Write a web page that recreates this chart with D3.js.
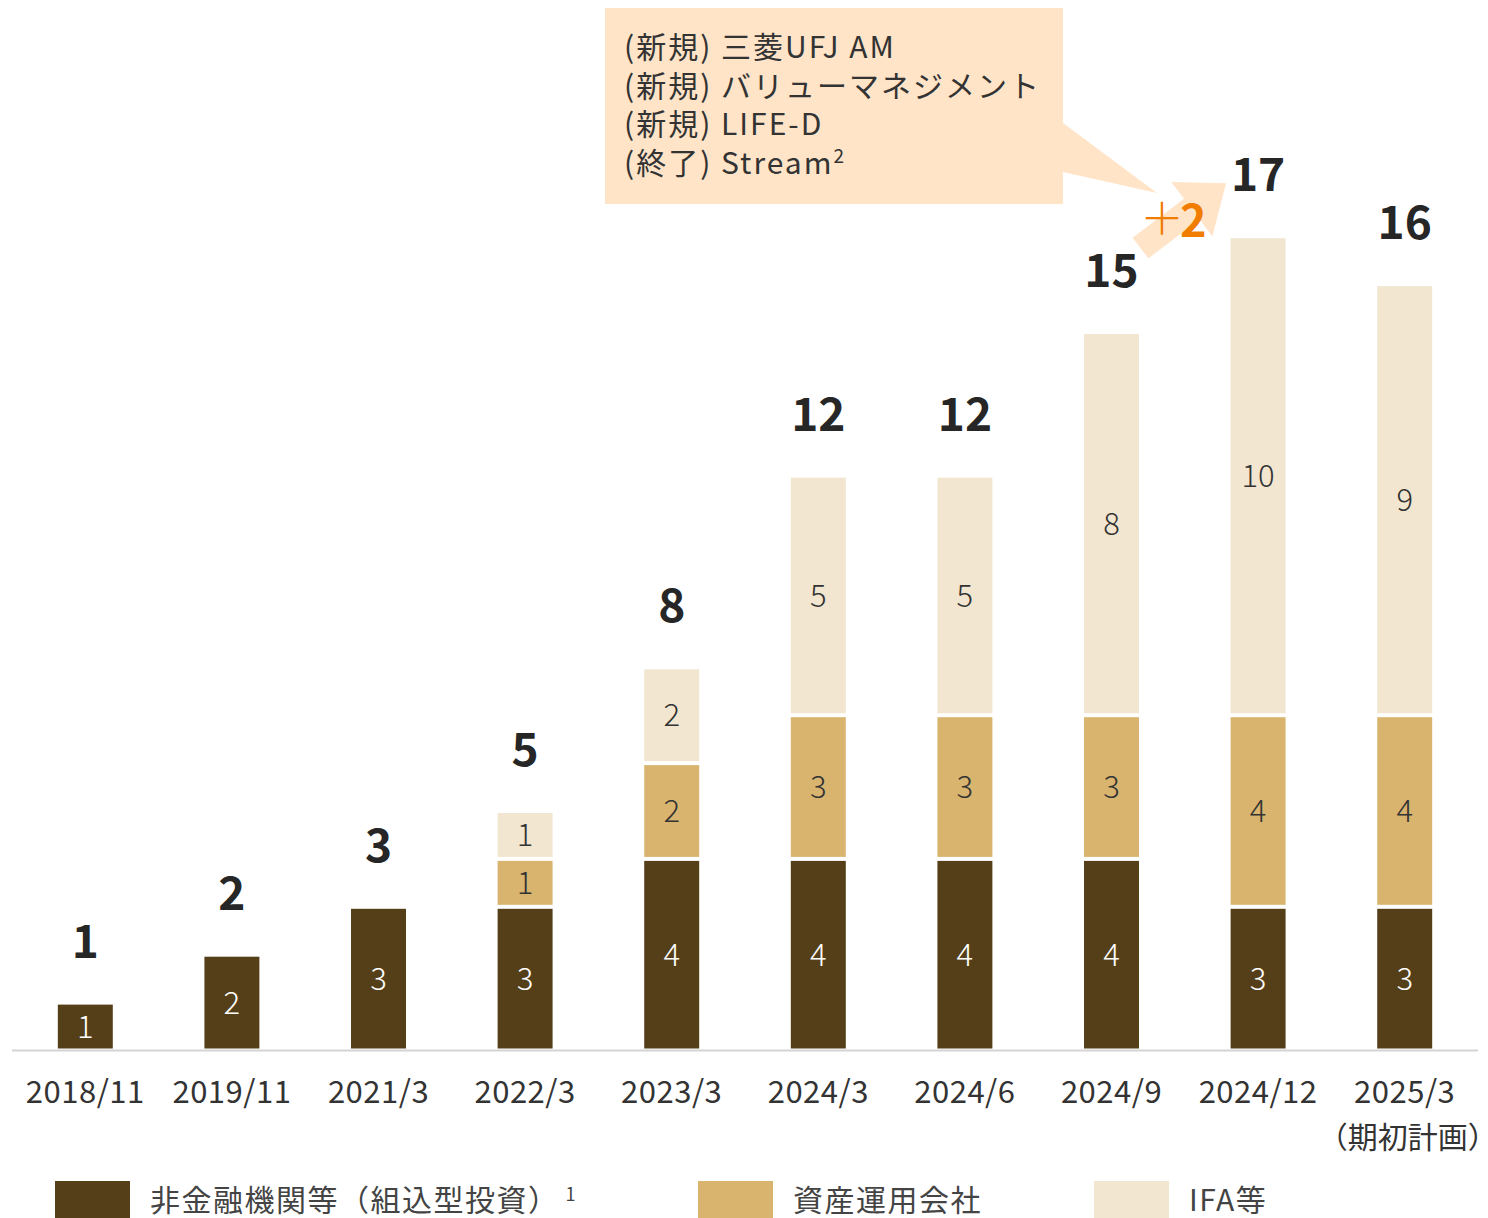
<!DOCTYPE html>
<html>
<head>
<meta charset="utf-8">
<script src="https://cdn.jsdelivr.net/npm/d3@7"></script>
<style>
  body { margin: 0; background: #fff; }
  svg { display: block; font-family: "Noto Sans CJK JP", "Noto Sans", sans-serif; }
</style>
</head>
<body>
<svg id="chart" width="1488" height="1218"></svg>
<script>
// data
const periods = ["2018/11", "2019/11", "2021/3", "2022/3", "2023/3", "2024/3", "2024/6", "2024/9", "2024/12", "2025/3"];
const nonFinancial = [1, 2, 3, 3, 4, 4, 4, 4, 3, 3];
const assetManagers = [0, 0, 0, 1, 2, 3, 3, 3, 4, 4];
const ifa = [0, 0, 0, 1, 2, 5, 5, 8, 10, 9];
const seriesNames = ["非金融機関等（組込型投資）", "資産運用会社", "IFA等"];
const colors = ["#553f18", "#d9b46f", "#f2e6d0"];
const calloutLines = ["(新規) 三菱UFJ AM", "(新規) バリューマネジメント", "(新規) LIFE-D", "(終了) Stream"];

const svg = d3.select("svg#chart");
const baseY = 1048.5;
const unit = 47.9;
const gap = 4;

const x = d3.scaleBand().domain(periods).range([12, 1478]).paddingInner(0.625).paddingOuter(0.3125);
const y = d3.scaleLinear().domain([0, 17]).range([baseY, baseY - 17 * unit]);

const table = periods.map((p, i) => ({ period: p, s0: nonFinancial[i], s1: assetManagers[i], s2: ifa[i] }));
const stacked = d3.stack().keys(["s0", "s1", "s2"])(table);

// bars (white gap on top of every segment)
const layers = svg.append("g").selectAll("g.layer")
  .data(stacked)
  .enter()
  .append("g")
  .attr("class", "layer")
  .attr("fill", (d, i) => colors[i]);

layers.selectAll("rect")
  .data(d => d.map(v => ({ v: v, key: d.key })))
  .enter()
  .filter(d => d.v[1] > d.v[0])
  .append("rect")
  .attr("x", d => x(d.v.data.period))
  .attr("width", x.bandwidth())
  .attr("y", d => y(d.v[1]) + gap)
  .attr("height", d => y(d.v[0]) - y(d.v[1]) - gap);

// segment labels
layers.selectAll("text")
  .data(d => d.map(v => ({ v: v, key: d.key })))
  .enter()
  .filter(d => d.v[1] > d.v[0])
  .append("text")
  .attr("x", d => x(d.v.data.period) + x.bandwidth() / 2)
  .attr("y", d => (y(d.v[0]) + y(d.v[1]) + gap) / 2)
  .attr("dy", "0.36em")
  .attr("text-anchor", "middle")
  .attr("font-size", 31)
  .attr("font-weight", 300)
  .attr("fill", d => d.key === "s0" ? "#ffffff" : "#333333")
  .text(d => d.v[1] - d.v[0]);

// axis line
svg.append("line")
  .attr("x1", 12).attr("x2", 1478)
  .attr("y1", baseY + 2).attr("y2", baseY + 2)
  .attr("stroke", "#d4d4d4").attr("stroke-width", 2);

// totals
svg.append("g").selectAll("text")
  .data(table)
  .enter()
  .append("text")
  .attr("x", d => x(d.period) + x.bandwidth() / 2)
  .attr("y", d => y(d.s0 + d.s1 + d.s2) - 43)
  .attr("text-anchor", "middle")
  .attr("font-size", 46)
  .attr("font-weight", 700)
  .attr("fill", "#262626")
  .text(d => d.s0 + d.s1 + d.s2);

// category labels
svg.append("g").selectAll("text")
  .data(periods)
  .enter()
  .append("text")
  .attr("x", d => x(d) + x.bandwidth() / 2)
  .attr("y", 1103)
  .attr("text-anchor", "middle")
  .attr("font-size", 31)
  .attr("letter-spacing", 0.5)
  .attr("fill", "#333")
  .text(d => d);
svg.append("text")
  .attr("x", x("2025/3") + x.bandwidth() / 2 + 3)
  .attr("y", 1148)
  .attr("text-anchor", "middle")
  .attr("font-size", 30)
  .attr("fill", "#333")
  .text("（期初計画）");

// callout
const peach = "#ffe4c8";
svg.append("path")
  .attr("d", "M605,8 H1063 V123 L1157,193 L1063,172 V204 H605 Z")
  .attr("fill", peach);
const cl = svg.append("text")
  .attr("font-size", 30)
  .attr("letter-spacing", 2)
  .attr("fill", "#333");
calloutLines.forEach((t, i) => {
  cl.append("tspan").attr("x", 624).attr("y", 58 + i * 38.5).text(t);
  if (i === calloutLines.length - 1) {
    cl.append("tspan").attr("dy", -11).attr("font-size", 19).text("2");
  }
});

// +2 arrow between 2024/9 and 2024/12
const xa = x("2024/9") + x.bandwidth() / 2 + 29;
const ya = y(15) - 82;
const xt = x("2024/12") + x.bandwidth() / 2 - 32;
const yt = y(17) - 51;
const len = Math.hypot(xt - xa, yt - ya);
const ux = (xt - xa) / len, uy = (yt - ya) / len;
const px = -uy, py = ux;
const headLen = 43, shaftW = 13, headW = 34;
const bx = xt - ux * headLen, by = yt - uy * headLen;
const pts = [
  [xa + px * shaftW, ya + py * shaftW],
  [bx + px * shaftW, by + py * shaftW],
  [bx + px * headW, by + py * headW],
  [xt, yt],
  [bx - px * headW, by - py * headW],
  [bx - px * shaftW, by - py * shaftW],
  [xa - px * shaftW, ya - py * shaftW]
];
svg.append("polygon")
  .attr("points", pts.map(p => p.join(",")).join(" "))
  .attr("fill", peach);
const plus = svg.append("text")
  .attr("x", 1140).attr("y", 237)
  .attr("fill", "#f07c00");
plus.append("tspan").attr("font-size", 44).attr("font-weight", 300).attr("dy", -2).text("＋");
plus.append("tspan").attr("font-size", 45).attr("font-weight", 700).attr("dx", -4).attr("dy", 2).text("2");

// legend
const legendX = [55, 698, 1094];
const lg = svg.append("g").selectAll("g")
  .data(seriesNames)
  .enter()
  .append("g")
  .attr("transform", (d, i) => `translate(${legendX[i]},1181)`);
lg.append("rect")
  .attr("width", 75).attr("height", 37)
  .attr("fill", (d, i) => colors[i]);
const lt = lg.append("text")
  .attr("x", 95).attr("y", 30)
  .attr("font-size", 30)
  .attr("letter-spacing", 1.5)
  .attr("fill", "#444");
lt.append("tspan").text(d => d);
lt.filter((d, i) => i === 0)
  .append("tspan")
  .attr("dx", 6).attr("dy", -10)
  .attr("font-size", 18)
  .text("1");
</script>
</body>
</html>
